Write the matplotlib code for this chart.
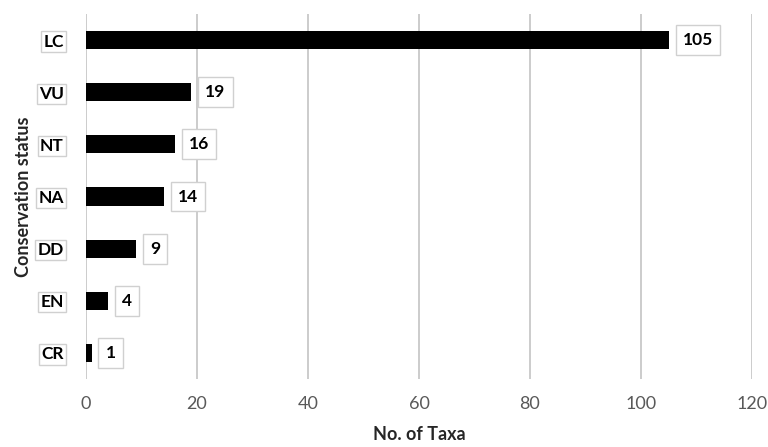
import matplotlib
matplotlib.use("Agg")
import matplotlib.pyplot as plt

# data
status = ["LC", "VU", "NT", "NA", "DD", "EN", "CR"]
taxa = [105, 19, 16, 14, 9, 4, 1]
xticks = [0, 20, 40, 60, 80, 100, 120]

plt.rcParams['font.family'] = ['Lato', 'DejaVu Sans']

fig = plt.figure(figsize=(7.68, 4.47), dpi=100)
ax = fig.add_axes([86/768, 68/447, (752-86)/768, (433-68)/447])

ypos = list(range(len(status)))[::-1]
ax.barh(ypos, taxa, height=0.35, color="black", zorder=3)

ax.set_xlim(0, 120)
ax.set_ylim(-0.5, len(status) - 0.5)
ax.set_xticks(xticks)
ax.set_xticklabels([str(t) for t in xticks], color="#595959", fontsize=13)
ax.set_yticks(ypos)
ax.set_yticklabels(status, fontsize=12.5, fontweight="bold")
for lab in ax.get_yticklabels():
    lab.set_bbox(dict(facecolor="white", edgecolor="#d0d0d0", boxstyle="square,pad=0.12", lw=1))

ax.tick_params(axis="both", length=0)
ax.tick_params(axis="y", pad=16)
ax.tick_params(axis="x", pad=12)
ax.grid(axis="x", color="#c8c8c8", lw=1.3, zorder=0)
for s in ax.spines.values():
    s.set_visible(False)

for y, v in zip(ypos, taxa):
    ax.annotate(str(v), (v, y), xytext=(10, 0), textcoords="offset points",
                va="center", ha="left", fontsize=12.5, fontweight="bold",
                bbox=dict(facecolor="white", edgecolor="#d0d0d0", boxstyle="square,pad=0.4", lw=1),
                zorder=4)

ax.set_xlabel("No. of Taxa", fontsize=13, fontweight="bold", color="#262626", labelpad=10)
ax.set_ylabel("Conservation status", fontsize=13, fontweight="bold", color="#262626", labelpad=4)

fig.savefig("out.png", dpi=100)
